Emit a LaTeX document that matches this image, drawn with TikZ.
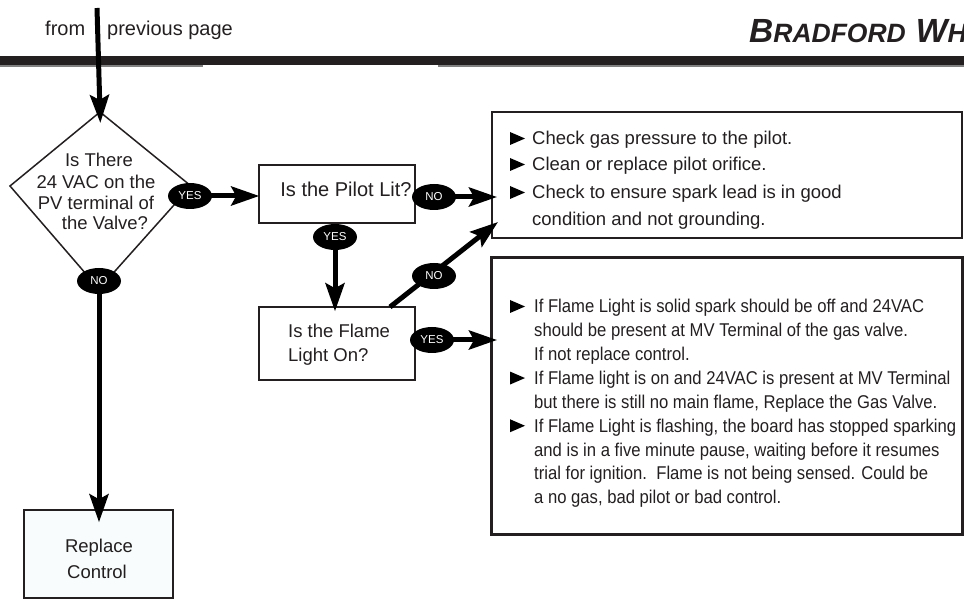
\documentclass[tikz,border=0pt]{standalone}
\usepackage{fontspec}
\setmainfont{Liberation Sans}
\newfontfamily\condfont[FakeStretch=0.9]{Liberation Sans}
\usetikzlibrary{arrows.meta,shapes.geometric}
\definecolor{ink}{HTML}{231F20}
\begin{document}
\begin{tikzpicture}[x=1pt,y=-1pt,
  txt/.style={inner sep=0pt, text=ink, font=\fontsize{18.5}{21}\selectfont},
  ctxt/.style={inner sep=0pt, text=ink, font=\condfont\fontsize{18.5}{21}\selectfont},
  hdr/.style={inner sep=0pt, text=ink, font=\fontsize{20}{22}\selectfont},
  lab/.style={ellipse, fill=black, text=white, minimum width=44pt, minimum height=26pt, inner sep=0pt, font=\fontsize{11.5}{12}\selectfont},
  boxx/.style={draw=ink, line width=1.5pt, inner sep=0pt},
  conn/.style={line width=5pt, draw=black, -{Stealth[length=28pt,width=19pt,inset=5pt]}},
  bul/.style={fill=black}]
\useasboundingbox (0,0) rectangle (964,601);
% header
\fill[ink] (0,56) rectangle (964,65.5);
\fill[gray] (0,65.5) rectangle (203,67);
\fill[gray] (438,65.5) rectangle (964,67);
\node[hdr, anchor=base west] (from) at (45,36) {from};
\node[hdr, anchor=base west] (prev) at (107,36) {previous page};
\node[inner sep=0pt, anchor=base west, text=ink, font=\bfseries\itshape] (brand) at (749,43)
  {{\fontsize{33.5}{34}\selectfont B}{\fontsize{26.5}{27}\selectfont RADFORD}\hspace{10pt}{\fontsize{33.5}{34}\selectfont W}{\fontsize{26.5}{27}\selectfont H}};
% diamond
\coordinate (dT) at (100,112);
\coordinate (dL) at (10,186);
\coordinate (dR) at (191,186);
\coordinate (dB) at (99,289);
\draw[ink, line width=1.5pt, line join=miter] (dT) -- (dR) -- (dB) -- (dL) -- cycle;
\node[txt, anchor=base] (d1) at (99,167) {Is There};
\node[txt, anchor=base] (d2) at (96,189) {24 VAC on the};
\node[txt, anchor=base] (d3) at (96,210) {PV terminal of};
\node[txt, anchor=base] (d4) at (105,230) {the Valve?};
% boxes
\node[boxx, minimum width=156pt, minimum height=58pt] (pilot) at (337,194) {};
\node[inner sep=0pt, text=ink, font=\fontsize{20}{22}\selectfont, anchor=base] (pilott) at (346,197) {Is the Pilot Lit?};
\node[boxx, minimum width=156pt, minimum height=73pt] (flame) at (337,343.5) {};
\node[txt, anchor=base west] (f1) at (288,338) {Is the Flame};
\node[txt, anchor=base west] (f2) at (288,362) {Light On?};
\node[boxx, fill={rgb,255:red,248;green,252;blue,252}, minimum width=149pt, minimum height=88pt] (replace) at (98.5,554) {};
\node[txt, anchor=base] (r1) at (99,552) {Replace};
\node[txt, anchor=base] (r2) at (97,578) {Control};
\node[draw=ink, line width=2pt, inner sep=0pt, minimum width=470pt, minimum height=126pt] (box1) at (727,175) {};
\node[draw=ink, line width=3pt, inner sep=0pt, minimum width=471pt, minimum height=277pt] (box2) at (727,396) {};
% box1 text
\node[txt, anchor=base west] (a1) at (532,145) {Check gas pressure to the pilot.};
\node[txt, anchor=base west] (a2) at (532,171) {Clean or replace pilot orifice.};
\node[txt, anchor=base west] (a3) at (532,199) {Check to ensure spark lead is in good};
\node[txt, anchor=base west] (a4) at (532,226) {condition and not grounding.};
\foreach \b in {145,171,199}
  \fill[bul] (510,\b-13) -- (510,\b) -- (525,\b-6.5) -- cycle;
% box2 text
\foreach \t [count=\i] in {
  {If Flame Light is solid spark should be off and 24VAC},
  {should be present at MV Terminal of the gas valve.},
  {If not replace control.},
  {If Flame light is on and 24VAC is present at MV Terminal},
  {but there is still no main flame, Replace the Gas Valve.},
  {If Flame Light is flashing, the board has stopped sparking},
  {and is in a five minute pause, waiting before it resumes},
  {trial for ignition.\ \ Flame is not being sensed. Could be},
  {a no gas, bad pilot or bad control.}}
  \node[ctxt, anchor=base west] (b\i) at (534,{313+23.85*(\i-1)}) {\t};
\foreach \b in {313,384.55,432.25}
  \fill[bul] (510,\b-13) -- (510,\b) -- (525,\b-6.5) -- cycle;
% label positions
\coordinate (pyes1) at (190,196);
\coordinate (pno1) at (434,197);
\coordinate (pyes2) at (335,237);
\coordinate (pno2) at (434,276);
\coordinate (pyes3) at (432,340);
\coordinate (pnoD) at (99,281);
\coordinate (src) at (97,8);
\coordinate (fne) at (390,307);
\coordinate (b1c) at (498,222);
% connectors
\draw[conn, shorten >=-11pt] (src) -- (dT);
\draw[conn, shorten >=-1pt] (pyes1) -- (pyes1 -| pilot.west);
\draw[conn, shorten >=-6pt] (pilot.east |- pno1) -- (pno1 -| box1.west);
\draw[conn, shorten >=-5pt] (pilot.south -| pyes2) -- (pyes2 |- flame.north);
\draw[conn] (fne) -- (b1c);
\draw[conn, shorten >=-7pt] (flame.east |- pyes3) -- (pyes3 -| box2.west);
\draw[conn, shorten >=-13pt] (pnoD) -- (pnoD |- replace.north);
% labels
\node[lab] (yes1) at (pyes1) {YES};
\node[lab] (no1) at (pno1) {NO};
\node[lab] (yes2) at (pyes2) {YES};
\node[lab] (no2) at (pno2) {NO};
\node[lab] (yes3) at (pyes3) {YES};
\node[lab] (noD) at (pnoD) {NO};
\end{tikzpicture}
\end{document}
